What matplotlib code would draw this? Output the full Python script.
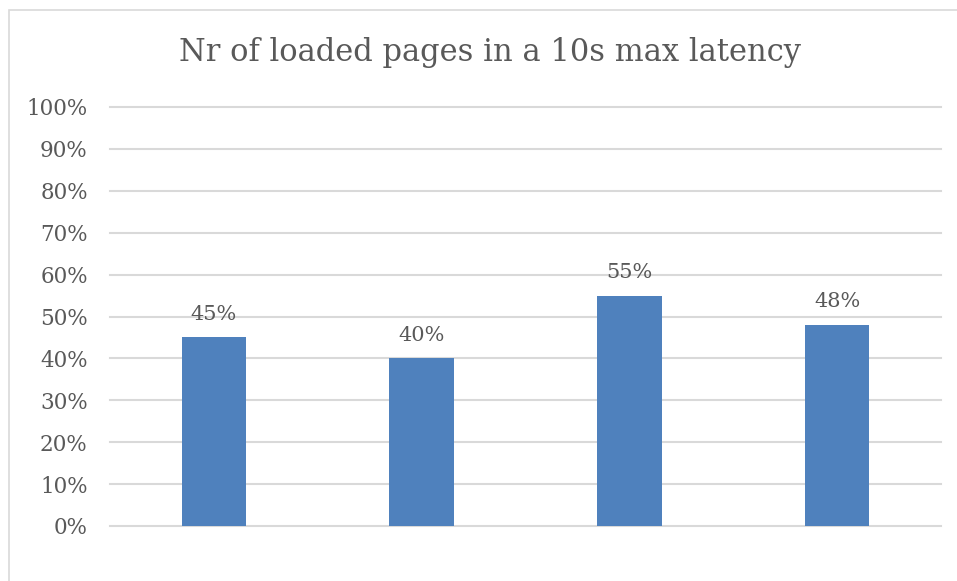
import matplotlib.pyplot as plt
from matplotlib.patches import Rectangle
from matplotlib.ticker import PercentFormatter

categories = ['A', 'B', 'C', 'D']
loaded = [45, 40, 55, 48]
y_ticks = list(range(0, 101, 10))

plt.rcParams['font.family'] = ['DejaVu Serif']
txt = '#595959'

fig = plt.figure(figsize=(9.57, 5.81), dpi=100)
ax = fig.add_axes([110 / 957, 1 - 526 / 581, 831 / 957, 419 / 581])

x = range(len(categories))
bars = ax.bar(x, loaded, width=0.31, color='#4f81bd', zorder=3)
for b, v in zip(bars, loaded):
    ax.annotate(f'{v}%', (b.get_x() + b.get_width() / 2, v), xytext=(0, 10),
                textcoords='offset points', ha='center', va='bottom',
                fontsize=15, color=txt)

ax.set_xlim(-0.5, 3.5)
ax.set_ylim(0, 100)
ax.set_yticks(y_ticks)
ax.yaxis.set_major_formatter(PercentFormatter(decimals=0))
ax.set_xticks([])
ax.tick_params(axis='y', length=0, pad=16, labelsize=15.5, labelcolor=txt)
ax.grid(axis='y', color='#d9d9d9', linewidth=1.5, zorder=0)
for gl in ax.get_ygridlines():
    gl.set_clip_on(False)
for s in ax.spines.values():
    s.set_visible(False)

fig.text(490 / 957, 1 - 53 / 581, 'Nr of loaded pages in a 10s max latency',
         ha='center', va='center', fontsize=22, color=txt)

# light frame round the chart area
fig.patches.append(Rectangle((9 / 957, -0.1), 1.1, 1.1 - 10 / 581, transform=fig.transFigure,
                             fill=False, edgecolor='#d9d9d9', linewidth=1.2))

fig.savefig('out.png', dpi=100)
